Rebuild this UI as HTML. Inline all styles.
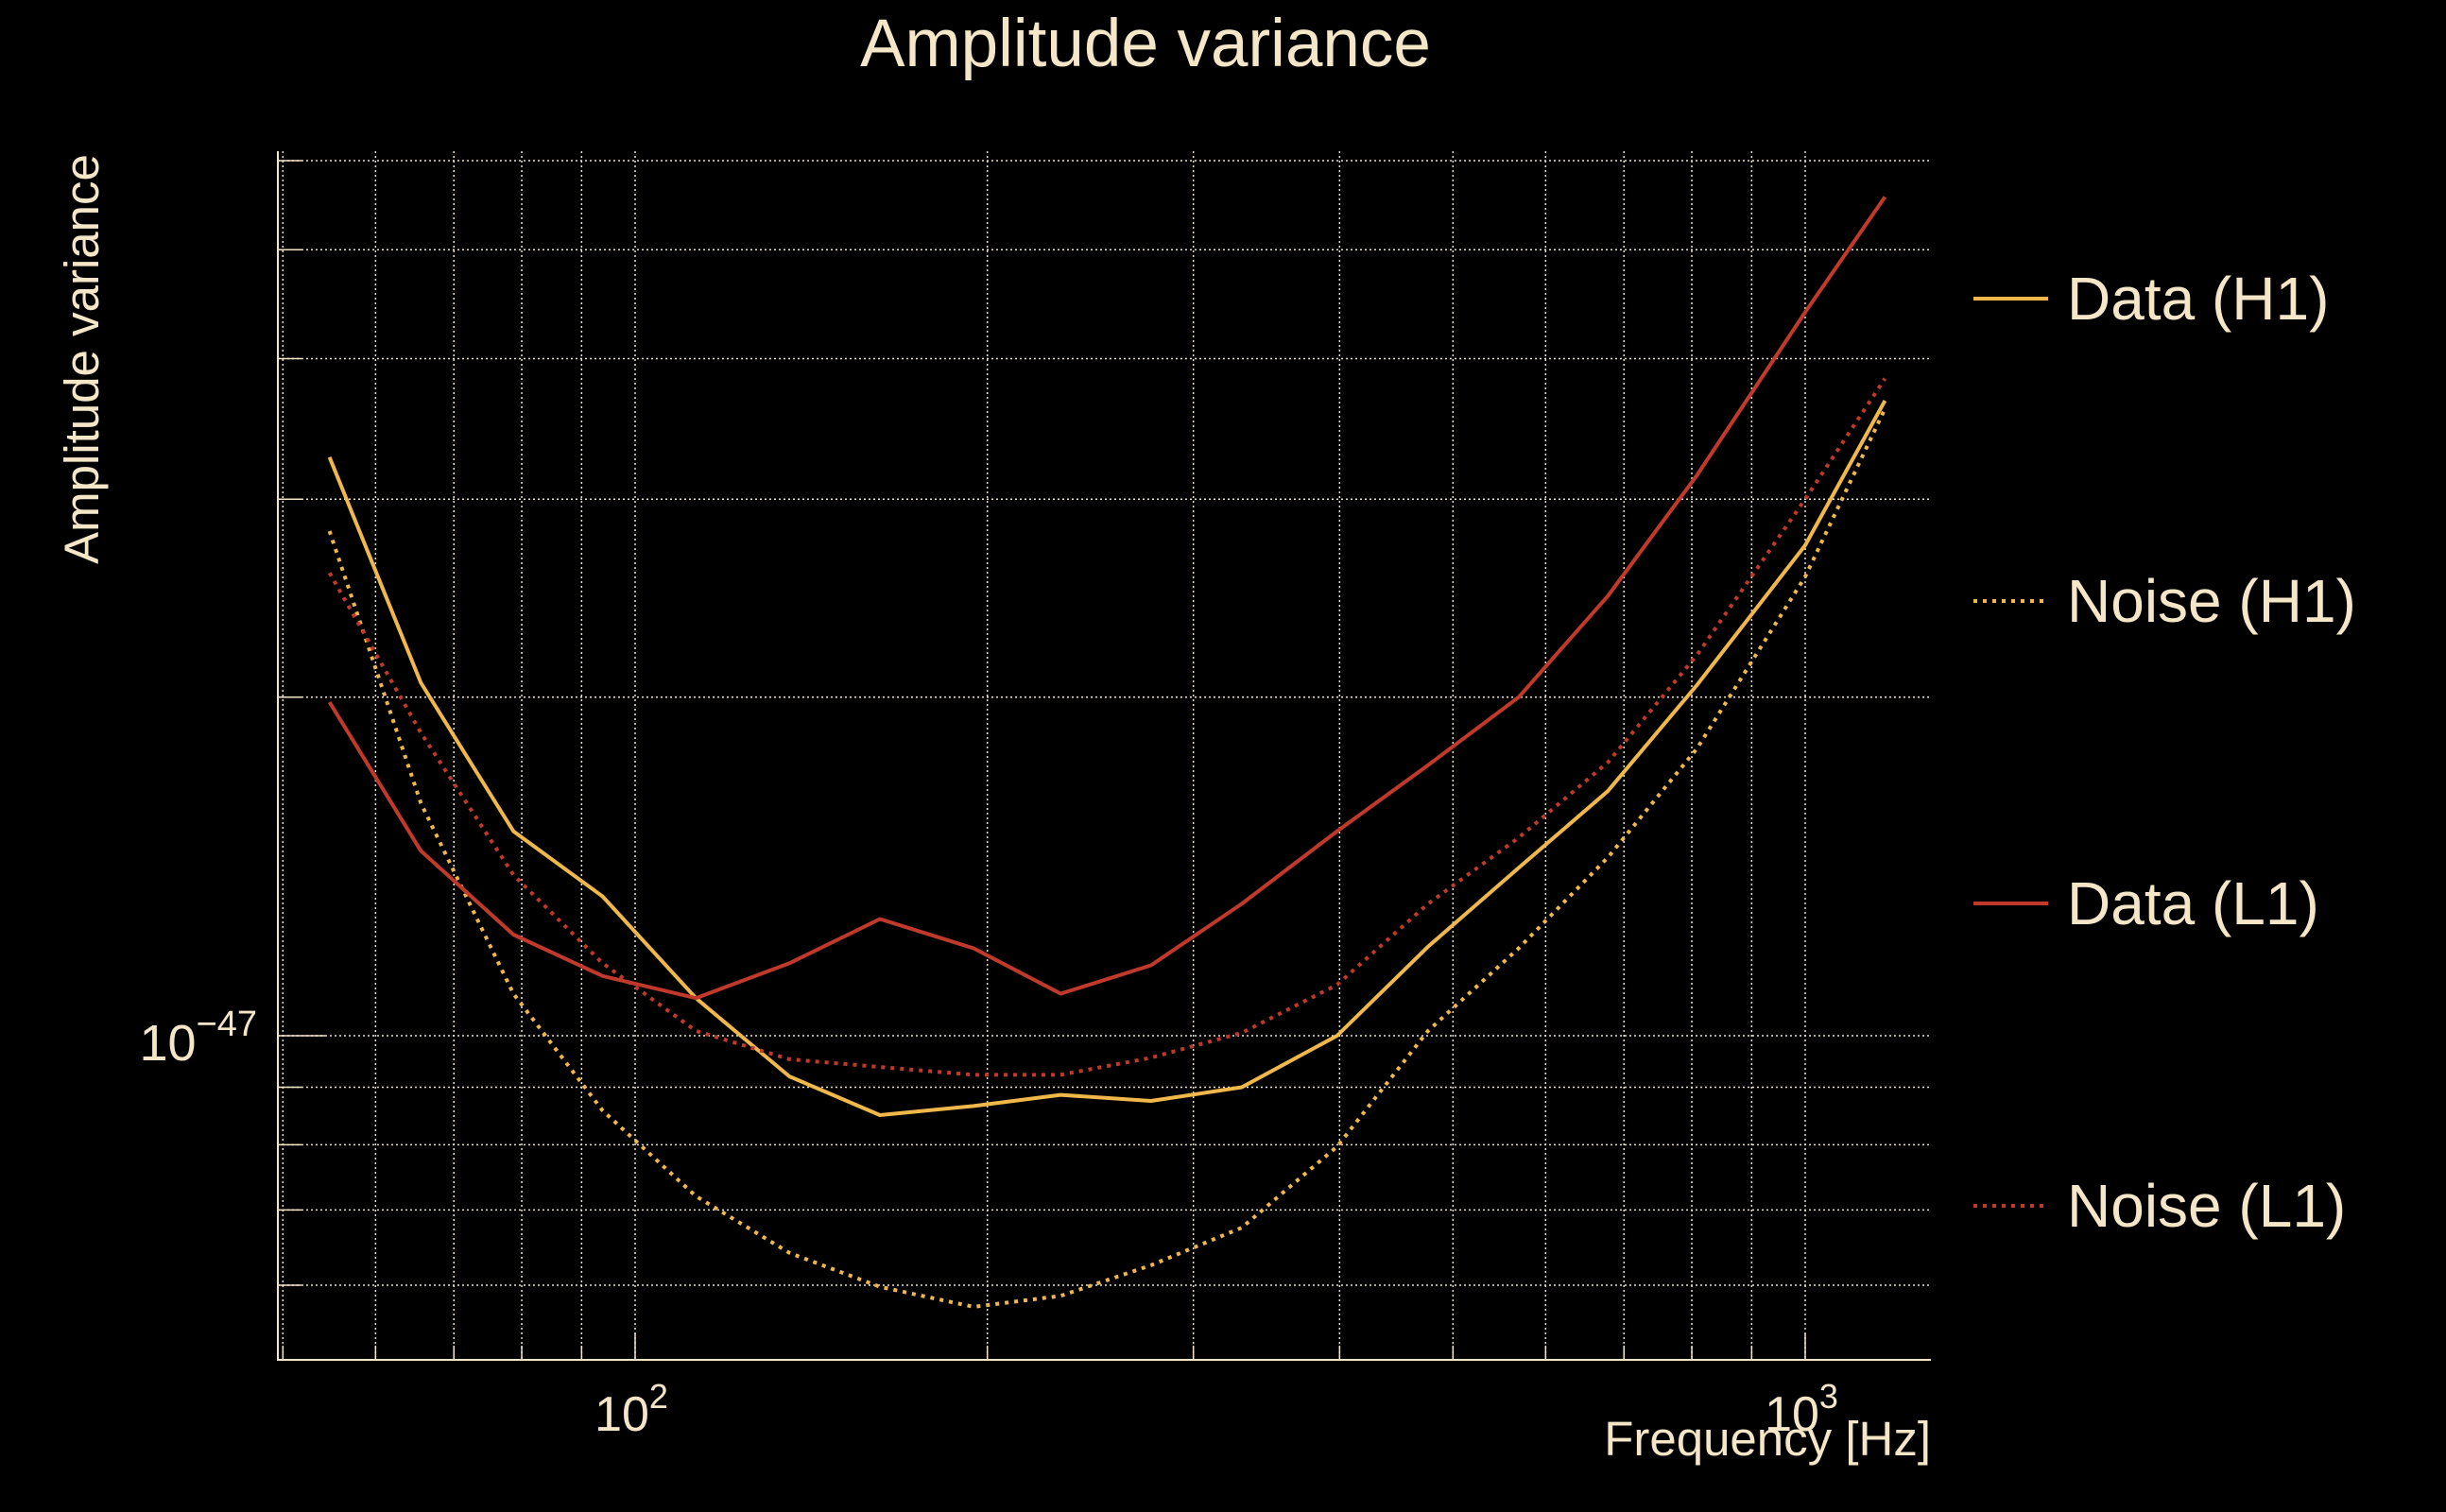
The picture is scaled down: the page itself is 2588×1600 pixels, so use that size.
<!DOCTYPE html>
<html><head><meta charset="utf-8"><style>
html,body{margin:0;padding:0;background:#000;}
svg{display:block;}
text{font-family:"Liberation Sans",sans-serif;fill:#f5e6c8;}
</style></head><body>
<svg id="chart" width="2588" height="1600" viewBox="0 0 2588 1600" xmlns="http://www.w3.org/2000/svg">
<rect width="2588" height="1600" fill="#000"/>
<text x="1212" y="70" font-size="71" text-anchor="middle">Amplitude variance</text>
<text transform="translate(104,380) rotate(-90)" font-size="51" text-anchor="middle">Amplitude variance</text>
<text x="2043" y="1540" font-size="51" text-anchor="end">Frequency [Hz]</text>
<g id="grid"></g>
<g id="series"></g>
<g id="legend"></g>
</svg>
<script>
const freqs = [54.8,65.6,78.7,93.8,112.7,135.5,161.9,194.7,231,276,330,398,476,569,678,808,1000,1170];
const dataH1 = [3.27,2.06,1.52,1.33,1.08,0.92,0.85,0.866,0.886,0.875,0.90,1.0,1.2,1.41,1.65,2.05,2.73,3.67];
const noiseH1 = [2.81,1.61,1.09,0.858,0.72,0.641,0.598,0.574,0.587,0.625,0.675,0.797,1.01,1.196,1.44,1.80,2.56,3.61];
const dataL1 = [1.98,1.46,1.23,1.13,1.08,1.16,1.27,1.196,1.09,1.155,1.31,1.52,1.74,2.0,2.46,3.15,4.40,5.57];
const noiseL1 = [2.58,1.86,1.39,1.16,1.01,0.953,0.938,0.923,0.923,0.956,1.006,1.11,1.31,1.50,1.75,2.18,3.0,3.84];
const xGridVals = [50,60,70,80,90,100,200,300,400,500,600,700,800,900,1000];
const yGridVals = [0.6,0.7,0.8,0.9,1,2,3,4,5,6];
const xTickLabels = [{v:100,e:"2"},{v:1000,e:"3"}];
const seriesNames = ["Data (H1)","Noise (H1)","Data (L1)","Noise (L1)"];

const NS="http://www.w3.org/2000/svg";
const L=294,R=2043,T=160,B=1439;
const X0=672, XD=1238, Y0=1096, YD=1190;
function xs(f){return X0+XD*(Math.log10(f)-2);}
function ys(v){return Y0-YD*Math.log10(v);}
function mk(tag,attrs,parent){const e=document.createElementNS(NS,tag);for(const k in attrs)e.setAttribute(k,attrs[k]);parent.appendChild(e);return e;}

const grid=document.getElementById('grid');
xGridVals.forEach(v=>{
  const x=xs(v);
  const l=mk('line',{x1:x,x2:x,y1:T,y2:B,stroke:'#e8e0d0','stroke-width':1.5,'stroke-dasharray':'2 3'},grid);
  
  
  const t=mk('line',{x1:x,x2:x,y1:B,y2:B-(v===100||v===1000?28:15),stroke:'#f5e6c8','stroke-width':1.5},grid);
  
  
});
yGridVals.forEach(v=>{
  const y=ys(v);
  const l=mk('line',{x1:L,x2:R,y1:y,y2:y,stroke:'#e8e0d0','stroke-width':1.5,'stroke-dasharray':'2 3'},grid);
  
  
  const t=mk('line',{x1:L,x2:L+(v===1?50:25),y1:y,y2:y,stroke:'#f5e6c8','stroke-width':1.5},grid);
  
  
});
const sp=mk('path',{d:`M${L},${T} L${L},${B} L${R},${B}`,fill:'none',stroke:'#f5e6c8','stroke-width':2},grid);


const yl=mk('text',{x:272,y:ys(1)+26,'font-size':54,'text-anchor':'end'},grid);


yl.innerHTML='10<tspan dy="-26" font-size="38">−47</tspan>';
xTickLabels.forEach(o=>{
  const t=mk('text',{x:xs(o.v)-4,y:1514,'font-size':52,'text-anchor':'middle'},grid);
  
  
  t.innerHTML='10<tspan dy="-24" font-size="36">'+o.e+'</tspan>';
});

const series=document.getElementById('series');
const defs=[{d:dataH1,c:'#f0b84a',dash:null},{d:noiseH1,c:'#f0b84a',dash:'4 6'},{d:dataL1,c:'#c0392b',dash:null},{d:noiseL1,c:'#c0392b',dash:'4 6'}];
defs.forEach((s,i)=>{
  const pts=s.d.map((v,j)=>xs(freqs[j]).toFixed(1)+','+ys(v).toFixed(1)).join(' ');
  const a={points:pts,fill:'none',stroke:s.c,'stroke-width':4,'stroke-linejoin':'round'};
  if(s.dash)a['stroke-dasharray']=s.dash;
  const p=mk('polyline',a,series);
  
  
});

const legend=document.getElementById('legend');
const ly=[316,636,956,1276];
defs.forEach((s,i)=>{
  const a={x1:2088,x2:2167,y1:ly[i],y2:ly[i],stroke:s.c,'stroke-width':4};
  if(s.dash)a['stroke-dasharray']=s.dash;
  const l=mk('line',a,legend);
  
  
  const t=mk('text',{x:2187,y:ly[i]+22,'font-size':64},legend);
  
  
  t.textContent=seriesNames[i];
});
</script>
</body></html>
